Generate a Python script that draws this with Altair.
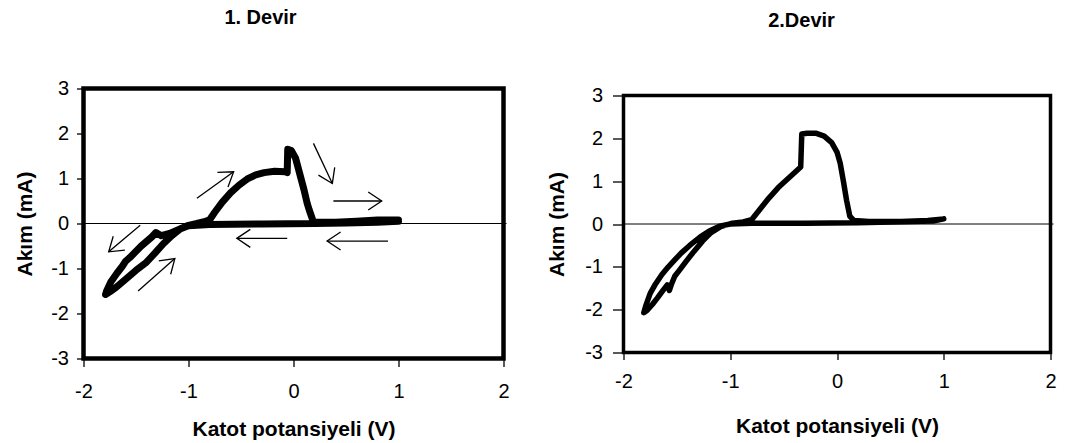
import math
import altair as alt
import pandas as pd

# ---------------- data ----------------
# 1. Devir  (cyclic voltammogram, scan starts at +1 V)
c1_x = [1.00, 0.80, 0.50, 0.20, -0.30, -0.80, -1.00, -1.08, -1.18, -1.26, -1.31, -1.35, -1.45, -1.56,
        -1.60, -1.63, -1.68, -1.74, -1.78, -1.79, -1.75, -1.69, -1.60, -1.50, -1.40, -1.32, -1.24, -1.16,
        -1.08, -1.00, -0.92, -0.85, -0.80, -0.75, -0.68, -0.60, -0.52, -0.44, -0.36, -0.28, -0.18, -0.08,
        -0.06, -0.055, -0.02, 0.02, 0.06, 0.10, 0.13, 0.15, 0.19, 0.40, 0.60, 0.80, 1.00]
c1_y = [0.05, 0.03, 0.01, 0.00, -0.01, -0.02, -0.05, -0.12, -0.22, -0.27, -0.20, -0.30, -0.50, -0.76,
        -0.84, -0.95, -1.10, -1.30, -1.50, -1.58, -1.52, -1.42, -1.24, -1.04, -0.86, -0.66, -0.45, -0.27,
        -0.12, -0.04, 0.00, 0.04, 0.08, 0.25, 0.47, 0.68, 0.85, 0.99, 1.08, 1.13, 1.16, 1.15,
        1.13, 1.65, 1.62, 1.45, 1.10, 0.75, 0.45, 0.30, 0.03, 0.03, 0.05, 0.08, 0.08]

# 2. Devir
c2_x = [1.00, 0.90, 0.60, 0.20, -0.30, -0.80, -1.00, -1.10, -1.20, -1.28, -1.38, -1.46, -1.52, -1.58,
        -1.64, -1.70, -1.75, -1.79, -1.81, -1.78, -1.73, -1.68, -1.63, -1.59, -1.57, -1.55, -1.52, -1.47,
        -1.41, -1.34, -1.26, -1.18, -1.09, -0.98, -0.88, -0.80, -0.72, -0.64, -0.55, -0.45, -0.34, -0.33,
        -0.28, -0.20, -0.12, -0.05, 0.00, 0.03, 0.06, 0.09, 0.12, 0.16, 0.30, 0.60, 0.85, 1.00]
c2_y = [0.12, 0.07, 0.05, 0.03, 0.02, 0.02, 0.00, -0.05, -0.17, -0.30, -0.50, -0.68, -0.84, -1.00,
        -1.18, -1.40, -1.62, -1.90, -2.07, -2.02, -1.88, -1.72, -1.55, -1.42, -1.55, -1.40, -1.22, -1.06,
        -0.86, -0.64, -0.40, -0.20, -0.06, 0.02, 0.05, 0.10, 0.35, 0.60, 0.85, 1.08, 1.33, 2.10,
        2.12, 2.12, 2.05, 1.90, 1.68, 1.42, 1.00, 0.55, 0.18, 0.08, 0.06, 0.06, 0.08, 0.12]

# scan-direction arrows drawn on the first cycle (start -> end, head at end)
arr_x0 = [-0.92, 0.19, 0.38, -0.06, 0.90, -1.46, -1.48]
arr_y0 = [0.56, 1.78, 0.50, -0.33, -0.39, -0.04, -1.50]
arr_x1 = [-0.57, 0.37, 0.84, -0.54, 0.32, -1.76, -1.13]
arr_y1 = [1.15, 0.89, 0.50, -0.33, -0.39, -0.63, -0.78]

x_ticks = [-2, -1, 0, 1, 2]
y_ticks = [-3, -2, -1, 0, 1, 2, 3]
panel_titles = ["1. Devir", "2.Devir"]
x_title = "Katot potansiyeli (V)"
y_title = "Akım (mA)"

FONT = "Liberation Sans"
CHEVRON = "M-1.5,-1L0,0L-1.5,1"


def panel(xs, ys, title, w, h, lw, frame_w, xtick, xpad, ytick, ypad,
          ytitle_x, xtitle_y, title_x, title_y, arrows=False):
    X = alt.X("x:Q", scale=alt.Scale(domain=[-2, 2], nice=False, zero=False),
              axis=alt.Axis(values=x_ticks, title=x_title, labelExpr="'' + datum.value",
                            tickSize=xtick, labelPadding=xpad, labelFlush=False,
                            labelOverlap=False, titleY=xtitle_y, titleX=w / 2,
                            titleBaseline="middle"))
    Y = alt.Y("y:Q", scale=alt.Scale(domain=[-3, 3], nice=False, zero=False),
              axis=alt.Axis(values=y_ticks, title=y_title, labelExpr="'' + datum.value",
                            tickSize=ytick, labelPadding=ypad, labelFlush=False,
                            labelOverlap=False, titleX=ytitle_x, titleY=h / 2,
                            titleBaseline="middle"))

    df = pd.DataFrame({"i": list(range(len(xs))), "x": xs, "y": ys})
    zero = alt.Chart(pd.DataFrame({"y": [0]})).mark_rule(
        color="black", strokeWidth=1).encode(y=Y, x=alt.value(0), x2=alt.value(w + 3))
    curve = alt.Chart(df).mark_line(
        color="black", strokeWidth=lw, strokeCap="round", strokeJoin="round").encode(
        x=X, y=Y, order=alt.Order("i:Q"))
    ttl = alt.Chart(pd.DataFrame({"t": [title]})).mark_text(
        font=FONT, fontSize=20, fontWeight="bold", color="black",
        align="center", baseline="middle").encode(
        x=alt.value(title_x), y=alt.value(title_y), text="t:N")
    layers = [zero, curve]
    if arrows:
        sx = w / 4.0
        sy = h / 6.0
        ang = [(math.degrees(math.atan2(-(b1 - b0) * sy, (a1 - a0) * sx))) % 360
               for a0, b0, a1, b1 in zip(arr_x0, arr_y0, arr_x1, arr_y1)]
        adf = pd.DataFrame({"x": arr_x0, "y": arr_y0, "x2": arr_x1, "y2": arr_y1})
        hdf = pd.DataFrame({"x": arr_x1, "y": arr_y1, "a": ang})
        shafts = alt.Chart(adf).mark_rule(color="black", strokeWidth=1.3).encode(
            x=X, y=Y, x2="x2:Q", y2="y2:Q")
        heads = alt.Chart(hdf).mark_point(
            shape=CHEVRON, filled=False, color="black", strokeWidth=1.3,
            size=324, opacity=1).encode(
            x=X, y=Y, angle=alt.Angle("a:Q", scale=None))
        layers += [shafts, heads]
    layers.append(ttl)
    return alt.layer(*layers).properties(
        width=w, height=h,
        view=alt.ViewBackground(stroke="black", strokeWidth=frame_w))


left = panel(c1_x, c1_y, panel_titles[0], 420, 270, 7, 4.5,
             8, 15, 7, 8, -58, 71, 177, -70.5, arrows=True)
right_plot = panel(c2_x, c2_y, panel_titles[1], 427, 257, 5.5, 3.5,
                   7, 12, 11, 10, -66.5, 74, 178, -75)

spacer = alt.Chart(pd.DataFrame({"s": [0]})).mark_point(opacity=0).encode(
    x=alt.value(0), y=alt.value(0)).properties(width=427, height=1)

right = alt.vconcat(spacer, right_plot, spacing=6, bounds="flush")

chart = alt.hconcat(left, right, spacing=120, bounds="flush").properties(
    padding={"left": 11.5, "top": 5.5, "right": 0, "bottom": 0},
    background="white",
).configure_view(strokeWidth=0).configure_axis(
    labelFont=FONT, labelFontSize=20, labelColor="black",
    titleFont=FONT, titleFontSize=21, titleFontWeight="bold", titleColor="black",
    tickColor="black", tickWidth=1.3, domain=False, grid=False,
)

chart.save("out.html", embed_options={"renderer": "svg", "actions": False})
